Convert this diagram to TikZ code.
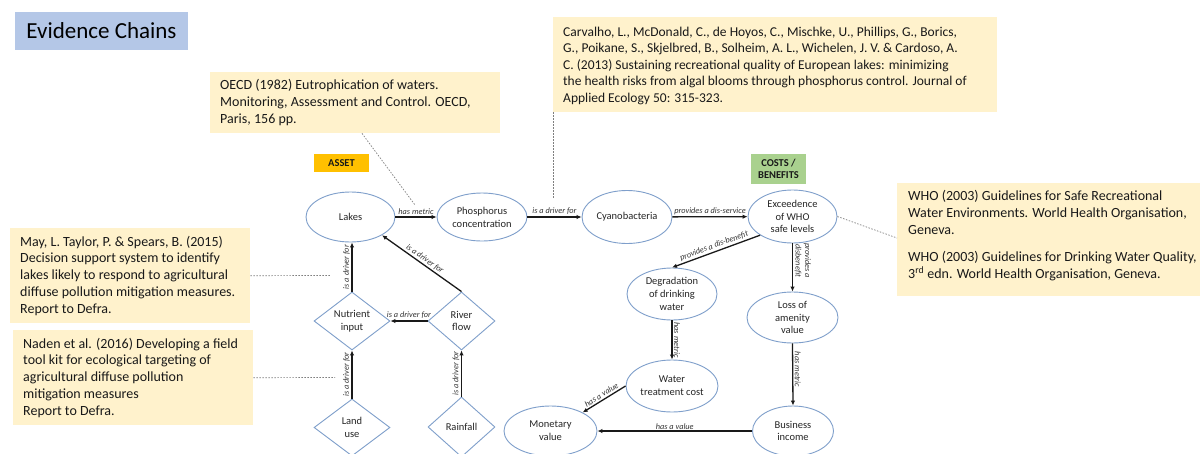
\documentclass[tikz,border=0pt]{standalone}
\usepackage{fontspec}
\setmainfont{Carlito}
\usetikzlibrary{shapes.geometric,arrows.meta,calc}

\definecolor{notefill}{HTML}{FFF2CC}
\definecolor{titlefill}{HTML}{B4C7E7}
\definecolor{assetfill}{HTML}{FFC000}
\definecolor{costfill}{HTML}{A9D18E}
\definecolor{shapeline}{HTML}{7F9FCB}
\definecolor{pinline}{HTML}{7F7F7F}

\begin{document}
\begin{tikzpicture}[x=1pt,y=-1pt,
  concept/.style={ellipse, draw=shapeline, line width=0.9pt, inner sep=0pt, align=center,
    font=\fontsize{10.5}{12.8}\selectfont, text=black!85},
  factor/.style={diamond, aspect=1.3, draw=shapeline, line width=0.9pt, inner sep=0pt, align=center,
    font=\fontsize{10.5}{12.8}\selectfont, text=black!85},
  link/.style={draw=black!90, line width=1.3pt, -{Latex[length=5pt,width=4.5pt]}},
  rel/.style={font=\fontsize{8.3}{9.6}\selectfont\itshape, text=black!80, inner sep=1.5pt},
  note/.style={rectangle, fill=notefill, inner sep=0pt, anchor=north west},
  notetext/.style={anchor=west, align=left, inner sep=0pt, font=\fontsize{14}{16.8}\selectfont, text=black!90},
  tag/.style={inner sep=0pt, align=center, font=\bfseries\fontsize{10.5}{12.5}\selectfont, text=black!90},
  pin/.style={draw=pinline, line width=0.7pt, dash pattern=on 1.5pt off 1.5pt},
]
\useasboundingbox (0,0) rectangle (1200,453);
\clip (0,0) rectangle (1200,453);
\fill[white] (0,0) rectangle (1200,453);

% heading and group tags
\node[fill=titlefill, minimum width=173, minimum height=38, inner sep=0pt,
  font=\fontsize{23}{27}\selectfont] (title) at (101.5,31) {Evidence Chains};
\node[tag, fill=assetfill, minimum width=55, minimum height=18] (asset) at (341.5,163) {ASSET};
\node[tag, fill=costfill, minimum width=55, minimum height=30] (costs) at (778.5,169) {COSTS /\\BENEFITS};

% reference notes
\node[note, minimum width=290, minimum height=61] (oecd) at (210,72) {};
\node[notetext] (oecd-text) at ($(oecd.west)+(10,0)$)
  {OECD (1982) Eutrophication of waters.\\Monitoring, Assessment and Control. OECD,\\Paris, 156 pp.};

\node[note, minimum width=444, minimum height=95] (carv) at (553,17) {};
\node[notetext, font=\fontsize{13.5}{16.6}\selectfont] (carv-text) at ($(carv.west)+(10,1)$)
  {Carvalho, L., McDonald, C., de Hoyos, C., Mischke, U., Phillips, G., Borics,\\
   G., Poikane, S., Skjelbred, B., Solheim, A. L., Wichelen, J. V. \& Cardoso, A.\\
   C. (2013) Sustaining recreational quality of European lakes: minimizing\\
   the health risks from algal blooms through phosphorus control. Journal of\\
   Applied Ecology 50: 315-323.};

\node[note, minimum width=240, minimum height=95] (may) at (10,228) {};
\node[notetext] (may-text) at ($(may.west)+(10,0)$)
  {May, L. Taylor, P. \& Spears, B. (2015)\\Decision support system to identify\\
   lakes likely to respond to agricultural\\diffuse pollution mitigation measures.\\Report to Defra.};

\node[note, minimum width=240, minimum height=95] (naden) at (13,330) {};
\node[notetext] (naden-text) at ($(naden.west)+(10,0)$)
  {Naden et al. (2016) Developing a field\\tool kit for ecological targeting of\\
   agricultural diffuse pollution\\mitigation measures\\Report to Defra.};

\node[note, minimum width=330, minimum height=113] (who) at (897,183) {};
\node[notetext] (who-text) at ($(who.west)+(11,-4)$)
  {WHO (2003) Guidelines for Safe Recreational\\Water Environments. World Health Organisation,\\Geneva.\\[11pt]
   WHO (2003) Guidelines for Drinking Water Quality,\\3\textsuperscript{rd} edn. World Health Organisation, Geneva.};

% concepts
\node[concept, minimum width=89, minimum height=50] (lakes) at (350.5,217) {Lakes};
\node[concept, minimum width=90, minimum height=48] (phos) at (482,217) {Phosphorus\\concentration};
\node[concept, minimum width=90, minimum height=53] (cyano) at (627,217) {Cyanobacteria};
\node[concept, minimum width=89, minimum height=53] (exceed) at (792.5,216.5) {Exceedence\\of WHO\\safe levels};
\node[concept, minimum width=90, minimum height=52] (degrad) at (672,294) {Degradation\\of drinking\\water};
\node[concept, minimum width=91, minimum height=51] (loss) at (792.5,317.5) {Loss of\\amenity\\value};
\node[concept, minimum width=92, minimum height=52] (wtc) at (672,386) {Water\\treatment cost};
\node[concept, minimum width=81, minimum height=50] (business) at (793,431) {Business\\income};
\node[concept, minimum width=93, minimum height=50] (money) at (550.5,431) {Monetary\\value};

% drivers
\node[factor, minimum width=76, minimum height=58] (nutrient) at (352,321) {Nutrient\\input};
\node[factor, minimum width=67, minimum height=58] (river) at (461.5,321) {River\\flow};
\node[factor, minimum width=76, minimum height=57] (landuse) at (352,427.5) {Land\\use};
\node[factor, minimum width=67, minimum height=60] (rainfall) at (461.5,427) {Rainfall};

% relations
\draw[link] (lakes) -- node[rel, above] {has metric} (phos);
\draw[link] (phos) -- node[rel, above] {is a driver for} (cyano);
\draw[link] (cyano) -- node[rel, above] {provides a dis-service} (exceed);
\draw[link] (exceed.-150) -- node[rel, sloped, above] {provides a dis-benefit} (degrad.north);
\draw[link] (exceed.south) -- node[rel, pos=0.36, rotate=-90, anchor=south, align=center] {provides a\\disbenefit} (loss.north);
\draw[link] (degrad.south) -- node[rel, rotate=-90, anchor=south] {has metric} (wtc.north);
\draw[link] (loss.south) -- node[rel, pos=0.42, rotate=-90, anchor=south] {has metric} (business.north);
\draw[link] (wtc.west) -- node[rel, sloped, above] {has a value} (money.30);
\draw[link] (business.west) -- node[rel, above, inner sep=0.5pt] {has a value} (money.east);

\draw[link] (nutrient.north) -- node[rel, rotate=90, anchor=south] {is a driver for} (nutrient.north |- lakes.south);
\draw[link] (river.north) -- node[rel, sloped, above] {is a driver for} (lakes.-30);
\draw[link] (river.west) -- node[rel, above] {is a driver for} (nutrient.east);
\draw[link] (landuse.north) -- node[rel, rotate=90, anchor=south] {is a driver for} (nutrient.south);
\draw[link] (rainfall.north) -- node[rel, rotate=90, anchor=south] {is a driver for} (river.south);

% note pointers
\coordinate (metricpin) at (415,205);
\coordinate (carvpin) at (553,198);
\coordinate (maypin) at (330,275.5);
\coordinate (nadenpin) at (335,377.5);
\draw[pin] ($(oecd.south west)+(152,0)$) -- (metricpin);
\draw[pin] (carv.south west) -- (carvpin);
\draw[pin] (exceed.east) -- ($(who.north west)+(0,55)$);
\draw[pin] (may.east) -- (maypin);
\draw[pin] (naden.east) -- (nadenpin);
\end{tikzpicture}
\end{document}
